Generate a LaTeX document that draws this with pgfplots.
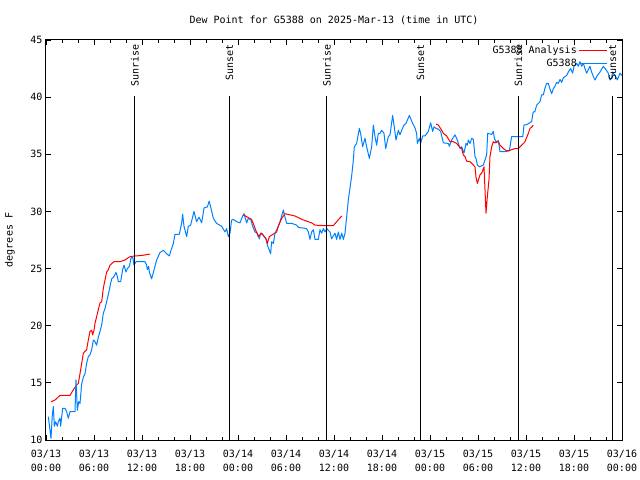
\documentclass[border=0pt]{standalone}
\usepackage{fontspec}
\setmainfont{DejaVu Sans Mono}
\usepackage{pgfplots}
\pgfplotsset{compat=1.18}
\definecolor{obsblue}{RGB}{0,128,255}
\begin{document}
\begin{tikzpicture}[font=\fontsize{10bp}{14bp}\selectfont]
\begin{axis}[
  at={(0,0)}, anchor=south west,
  scale only axis, width=576bp, height=400bp,
  xmin=0, xmax=72, ymin=10, ymax=45,
  xtick={0,6,...,72},
  xticklabels={{03/13\\00:00},{03/13\\06:00},{03/13\\12:00},{03/13\\18:00},{03/14\\00:00},{03/14\\06:00},{03/14\\12:00},{03/14\\18:00},{03/15\\00:00},{03/15\\06:00},{03/15\\12:00},{03/15\\18:00},{03/16\\00:00}},
  xticklabel style={align=center, font=\fontsize{10bp}{14bp}\selectfont, anchor=north, inner sep=0pt, yshift=-9.5bp},
  minor x tick num=2,
  ytick={10,15,...,45},
  /pgf/number format/assume math mode=true,
  tick align=inside,
  major tick length=5bp, minor tick length=3bp,
  tick style={black, line width=0.8bp},
  axis line style={line width=1bp},
  every axis title shift=0pt,
  title={Dew Point for G5388 on 2025-Mar-13 (time in UTC)},
  title style={at={(axis description cs:0.5,1)}, anchor=center, yshift=20bp},
  ylabel={degrees F},
  ylabel style={at={(axis description cs:-0.0625,0.5)}, anchor=center},
  legend style={draw=none, fill=none, at={(axis description cs:0.980,0.995)}, anchor=north east, row sep=1bp, nodes={inner sep=1.5bp}},
  legend cell align=right,
  legend plot pos=right,
  legend image code/.code={\draw[#1] (5bp,0bp) -- (33bp,0bp);},
  every axis plot/.append style={line width=1bp, line join=round},
]
\addplot[red, mark=none] coordinates {
(0.625,13.35) (1.125,13.5) (1.75,13.9) (3.0,13.9) (3.42,14.4) (3.83,14.8) (4.04,14.95) (4.25,15.8) (4.46,16.7) (4.67,17.6) (5.08,17.9) (5.29,18.75) (5.5,19.5) (5.71,19.6) (5.83,19.2) (6.0,19.6) (6.125,20.2) (6.33,20.8) (6.54,21.4) (6.75,22.0) (6.96,22.1) (7.17,23.3) (7.375,24.0) (7.58,24.7) (7.79,24.9) (8.0,25.3) (8.5,25.6) (9.25,25.6) (9.875,25.75) (10.17,25.9) (10.5,26.04) (11.125,26.1) (12.0,26.15) (13.0,26.27)
};
\addlegendentry{G5388 Analysis}
\addplot[obsblue, mark=none] coordinates {
(0.29,12.04) (0.625,10.15) (0.79,12.19) (0.92,12.92) (1.04,11.2) (1.21,11.6) (1.42,11.2) (1.54,11.6) (1.75,11.9) (1.83,11.2) (2.08,12.77) (2.375,12.77) (2.58,12.48) (2.79,11.9) (3.0,12.48) (3.625,12.48) (3.75,15.25) (3.92,12.6) (4.08,13.35) (4.25,13.2) (4.46,14.9) (4.67,15.5) (4.875,15.8) (5.08,16.7) (5.29,17.3) (5.5,17.45) (5.71,17.9) (5.92,18.75) (6.125,18.6) (6.33,18.3) (6.54,19.0) (6.75,19.5) (6.96,20.07) (7.17,21.1) (7.375,21.5) (7.58,22.1) (7.875,23.0) (8.08,23.7) (8.21,24.1) (8.5,24.3) (8.75,24.67) (8.92,24.3) (9.04,23.85) (9.33,23.85) (9.58,24.9) (9.75,25.3) (10.0,24.7) (10.17,25.0) (10.42,25.2) (10.625,25.9) (10.83,26.04) (11.0,25.3) (11.25,25.6) (12.375,25.6) (12.58,25.3) (12.67,24.9) (12.83,25.2) (12.92,24.7) (13.2,24.1) (13.4,24.6) (13.83,25.75) (14.25,26.4) (14.67,26.6) (15.08,26.3) (15.42,26.1) (15.58,26.5) (15.92,27.2) (16.125,28.0) (16.67,28.0) (16.96,29.0) (17.08,29.75) (17.25,28.7) (17.58,27.8) (17.79,28.7) (18.08,28.8) (18.5,30.0) (18.83,29.1) (19.125,29.5) (19.46,29.0) (19.75,30.3) (20.17,30.4) (20.4,30.9) (20.58,30.4) (20.92,29.4) (21.33,28.95) (21.96,28.7) (22.375,28.2) (22.58,28.5) (22.79,27.8) (23.0,28.1) (23.2,29.25) (23.42,29.3) (23.83,29.1) (24.25,29.0) (24.58,29.6) (24.75,29.8) (25.08,29.0) (25.29,29.4) (25.625,29.25) (25.83,28.7) (26.125,28.2) (26.42,28.1) (26.67,27.6) (26.83,28.1) (27.17,27.9) (27.5,27.6) (27.67,27.06) (27.92,26.6) (28.08,26.3) (28.2,27.35) (28.42,27.2) (28.625,28.08) (28.92,28.5) (29.25,29.1) (29.67,30.13) (29.875,29.5) (30.08,28.96) (30.7,28.96) (31.33,28.8) (31.54,28.6) (32.58,28.5) (32.79,28.2) (33.0,27.55) (33.2,28.2) (33.42,28.4) (33.625,27.55) (34.04,27.55) (34.25,28.4) (34.46,28.1) (34.67,28.5) (34.875,28.2) (35.08,28.5) (35.5,28.2) (35.7,27.6) (36.125,28.1) (36.33,27.55) (36.54,28.2) (36.75,27.55) (36.96,28.1) (37.17,27.55) (37.375,28.1) (37.58,29.5) (37.79,31.0) (38.2,33.05) (38.42,34.5) (38.54,35.66) (38.83,35.95) (39.17,37.27) (39.33,36.83) (39.58,35.66) (39.875,36.4) (40.08,35.66) (40.42,34.64) (40.71,35.66) (40.92,37.56) (41.125,36.54) (41.33,35.8) (41.54,36.83) (41.75,36.83) (41.96,37.1) (42.25,36.83) (42.46,35.5) (42.79,36.54) (43.0,36.7) (43.33,38.4) (43.5,37.56) (43.75,36.25) (44.04,37.1) (44.25,36.7) (44.46,37.1) (44.75,37.56) (45.0,37.7) (45.42,38.4) (45.83,37.7) (46.125,37.3) (46.33,36.83) (46.42,35.95) (46.67,36.4) (46.83,35.95) (47.08,36.6) (47.375,36.6) (47.79,37.0) (48.08,37.76) (48.33,37.0) (48.5,37.4) (48.75,37.27) (49.04,37.2) (49.33,37.0) (49.67,36.0) (50.29,35.95) (50.42,35.7) (50.71,36.25) (51.125,36.7) (51.42,36.25) (51.75,35.5) (51.96,35.66) (52.25,35.1) (52.5,35.95) (52.67,35.8) (52.79,36.25) (53.0,35.95) (53.21,36.4) (53.42,36.3) (53.625,34.8) (53.75,34.64) (53.92,34.06) (54.17,33.9) (54.67,34.06) (54.875,34.5) (55.08,34.93) (55.21,36.83) (55.71,36.74) (55.92,37.0) (56.04,36.4) (56.25,36.1) (56.54,36.2) (56.75,35.24) (57.375,35.24) (57.92,35.3) (58.2,36.54) (59.6,36.54) (59.75,37.56) (60.1,37.6) (60.7,37.85) (60.9,38.7) (61.1,38.7) (61.33,39.3) (61.75,39.6) (61.96,40.2) (62.17,40.2) (62.375,40.8) (62.58,41.2) (62.79,41.2) (63.0,40.7) (63.21,40.3) (63.42,40.75) (63.625,40.96) (63.83,41.3) (64.04,41.2) (64.25,41.55) (64.46,41.3) (64.67,41.7) (64.875,41.8) (65.08,41.9) (65.29,42.2) (65.58,42.5) (65.83,42.1) (66.0,42.7) (66.33,42.96) (66.54,42.7) (66.75,43.1) (66.96,42.7) (67.17,42.96) (67.375,42.5) (67.58,42.1) (67.79,42.4) (68.0,42.7) (68.2,42.2) (68.42,41.8) (68.625,41.5) (68.83,41.8) (69.25,42.2) (69.67,42.7) (70.0,42.4) (70.29,42.1) (70.5,41.5) (70.7,41.7) (70.83,42.2) (71.125,41.9) (71.42,41.5) (71.75,42.1) (72.0,41.9)
};
\addlegendentry{G5388}
\addplot[red, mark=none, forget plot] coordinates {
(24.67,29.7) (25.7,29.3) (25.9,28.96) (26.25,28.3) (26.54,27.8) (26.96,28.1) (27.5,27.6) (27.67,27.2) (27.92,27.8) (28.83,28.2) (29.04,28.7) (29.46,29.4) (29.875,29.8) (31.125,29.6) (32.17,29.25) (33.2,29.0) (33.625,28.8) (35.08,28.75) (35.9,28.75) (36.33,29.1) (36.83,29.5) (37.0,29.6)
};
\addplot[red, mark=none, forget plot] coordinates {
(48.75,37.65) (49.04,37.56) (49.46,37.1) (49.67,36.83) (50.08,36.6) (50.5,36.1) (50.92,36.1) (51.33,35.95) (51.67,35.66) (51.96,35.5) (52.17,34.93) (52.375,34.8) (52.58,34.4) (53.0,34.35) (53.42,34.06) (53.625,33.9) (53.75,33.0) (53.92,32.45) (54.25,33.2) (54.46,33.35) (54.75,33.9) (54.875,31.9) (55.0,29.85) (55.17,31.3) (55.375,32.8) (55.5,34.8) (55.71,35.66) (55.92,36.1) (56.125,36.0) (56.54,36.1) (56.75,35.8) (57.17,35.5) (57.58,35.3) (58.0,35.35) (58.625,35.5) (59.04,35.5) (59.46,35.8) (59.875,36.1) (60.29,36.83) (60.5,37.27) (60.7,37.36) (60.9,37.56)
};
\foreach \t/\lab in {11.1/Sunrise, 22.94/Sunset, 35.1/Sunrise, 46.81/Sunset, 59.06/Sunrise, 70.81/Sunset} {
  \edef\temp{\noexpand\draw[black, line width=1bp] (axis cs:\t,10) -- (axis cs:\t,40.1);
    \noexpand\node[rotate=90, anchor=east, inner sep=0pt] at (axis cs:\t,44.6) {\lab};}
  \temp
}
\end{axis}
\pgfresetboundingbox
\path[use as bounding box] (-46bp,-40bp) rectangle (594bp,440bp);
\end{tikzpicture}
\end{document}
